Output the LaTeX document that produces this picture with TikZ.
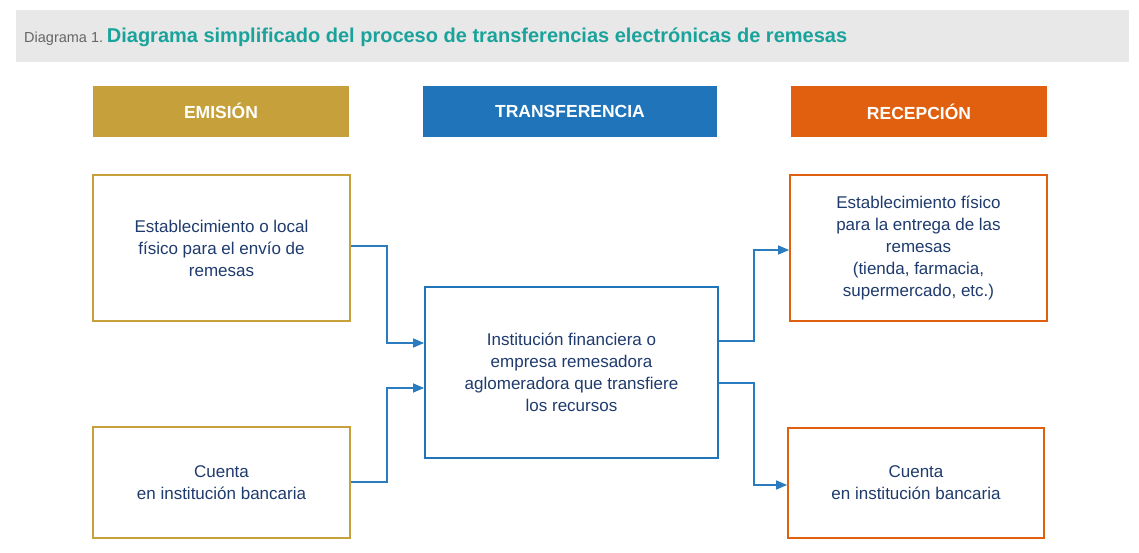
\documentclass[tikz,border=0pt]{standalone}
\usepackage{fontspec}
\setmainfont{Liberation Sans}
\usetikzlibrary{arrows.meta}
\definecolor{gold}{HTML}{C6A03A}
\definecolor{bl}{HTML}{1F74BA}
\definecolor{orng}{HTML}{E0600F}
\definecolor{teal}{HTML}{1AA39B}
\definecolor{txt}{HTML}{1F3B6E}
\definecolor{ln}{HTML}{2A7BC0}
\begin{document}
\begin{tikzpicture}[x=1pt,y=-1pt,
 hdr/.style={text=white,font=\bfseries\fontsize{17.5}{20}\selectfont},
 box/.style={draw,line width=1.8pt,fill=white,text=txt,align=center,font=\fontsize{17}{22}\selectfont},
 con/.style={ln,line width=1.4pt,-{Triangle[length=11pt,width=9pt]}}]
\useasboundingbox (0,0) rectangle (1139,553);
\fill[white] (0,0) rectangle (1139,553);
\fill[black!9] (16,10) rectangle (1129,62);
\node[anchor=west,inner sep=0] (ttl) at (24,37) {{\color{black!60}\fontsize{14.5}{17}\selectfont Diagrama 1.} {\color{teal}\bfseries\fontsize{20}{24}\selectfont Diagrama simplificado del proceso de transferencias electrónicas de remesas}};
\fill[gold] (93,86) rectangle (349,137); \node[hdr] (h1) at (221,111) {EMISIÓN};
\fill[bl] (423,86) rectangle (717,137); \node[hdr] (h2) at (570,111) {TRANSFERENCIA};
\fill[orng] (791,86) rectangle (1047,137); \node[hdr] (h3) at (919,112) {RECEPCIÓN};
\node[box,draw=gold,minimum width=257pt,minimum height=146pt] (a) at (221.5,248) {Establecimiento o local\\físico para el envío de\\remesas};
\node[box,draw=gold,minimum width=257pt,minimum height=111pt] (b) at (221.5,482.5) {Cuenta\\en institución bancaria};
\node[box,draw=bl,minimum width=293pt,minimum height=171pt] (c) at (571.5,372.5) {Institución financiera o\\empresa remesadora\\aglomeradora que transfiere\\los recursos};
\node[box,draw=orng,minimum width=257pt,minimum height=146pt] (d) at (918.5,248) {Establecimiento físico\\para la entrega de las\\remesas\\(tienda, farmacia,\\supermercado, etc.)};
\node[box,draw=orng,minimum width=256pt,minimum height=110pt] (e) at (916,483) {Cuenta\\en institución bancaria};
\draw[con] (a.east |- 0,246) -| (387,343) -- (c.west |- 0,343);
\draw[con] (b.east |- 0,482) -| (387,388) -- (c.west |- 0,388);
\draw[con] (c.east |- 0,341) -| (754,250) -- (d.west |- 0,250);
\draw[con] (c.east |- 0,383) -| (754,485) -- (e.west |- 0,485);
\end{tikzpicture}
\end{document}
